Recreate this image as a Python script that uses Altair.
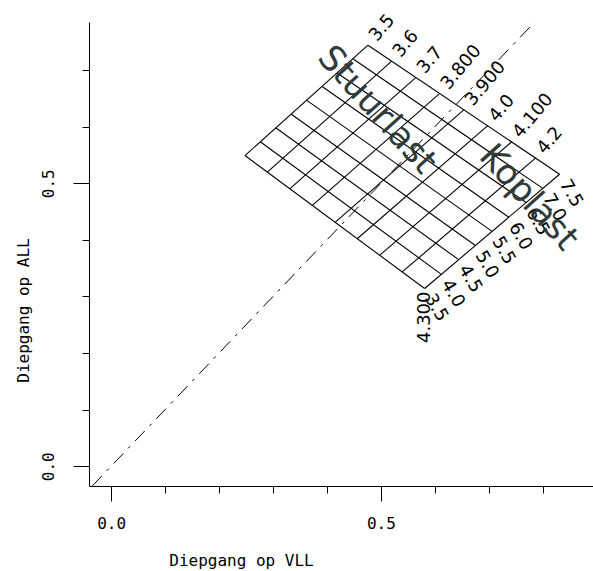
import altair as alt
import pandas as pd

# Axis extents (draft at forward / aft perpendicular)
x_domain = [-0.041, 0.893]
y_domain = [-0.035, 0.785]
x_ticks = [0.0, 0.1, 0.2, 0.3, 0.4, 0.5, 0.6, 0.7, 0.8]
y_ticks = [0.0, 0.1, 0.2, 0.3, 0.4, 0.5, 0.6, 0.7]

# Family A lines (stern-load values): upper and lower end points
a_labels = ["3.5", "3.6", "3.7", "3.800", "3.900", "4.0", "4.100", "4.2", "4.300"]
a_x_top = [0.476, 0.520, 0.565, 0.609, 0.654, 0.698, 0.742, 0.787, 0.831]
a_y_top = [0.744, 0.716, 0.687, 0.659, 0.630, 0.602, 0.573, 0.545, 0.516]
a_x_bot = [0.248, 0.290, 0.331, 0.373, 0.415, 0.456, 0.498, 0.539, 0.581]
a_y_bot = [0.549, 0.520, 0.490, 0.461, 0.431, 0.402, 0.373, 0.343, 0.314]

# Family B lines (bow-load values): left and right end points
b_labels = ["3.5", "4.0", "4.5", "5.0", "5.5", "6.0", "6.5", "7.0", "7.5"]
b_x_left = [0.248, 0.277, 0.305, 0.334, 0.362, 0.391, 0.419, 0.448, 0.476]
b_y_left = [0.549, 0.573, 0.598, 0.622, 0.647, 0.671, 0.695, 0.720, 0.744]
b_x_right = [0.581, 0.612, 0.644, 0.675, 0.706, 0.737, 0.769, 0.800, 0.831]
b_y_right = [0.314, 0.339, 0.365, 0.390, 0.415, 0.440, 0.466, 0.491, 0.516]

# Even-keel reference line (equal drafts)
even_keel = [-0.035, 0.80]

# Region names
region_names = ["Stuurlast", "Koplast"]
region_x = [0.493, 0.774]
region_y = [0.630, 0.475]

MONO = "DejaVu Sans Mono"
SANS = "DejaVu Sans"

xs = alt.Scale(domain=x_domain, nice=False, zero=False)
ys = alt.Scale(domain=y_domain, nice=False, zero=False)

major = "datum.value == 0 || datum.value == 0.5"
only_major = "datum.value == 0 || datum.value == 0.5 ? format(datum.value, '.1f') : ''"

x_axis = alt.Axis(
    values=x_ticks,
    labelExpr=only_major,
    tickSize={"condition": {"test": major, "value": 15}, "value": 7},
    labelPadding=14,
    labelFont=MONO,
    labelFontSize=16,
    labelColor="black",
    title="Diepgang op VLL",
    titleFont=MONO,
    titleFontSize=16,
    titleFontWeight="normal",
    titleColor="black",
    titleX=152,
    titleY=74,
    titleAlign="center",
    titleBaseline="middle",
    domainColor="black",
    tickColor="black",
    grid=False,
)

y_axis = alt.Axis(
    values=y_ticks,
    labelExpr=only_major,
    tickSize={"condition": {"test": major, "value": 16}, "value": 7},
    labelAngle=270,
    labelAlign="center",
    labelBaseline="bottom",
    labelPadding=17,
    labelFont=MONO,
    labelFontSize=16,
    labelColor="black",
    title="Diepgang op ALL",
    titleFont=MONO,
    titleFontSize=16,
    titleFontWeight="normal",
    titleColor="black",
    titleAngle=270,
    titleX=-66,
    titleY=288,
    titleAlign="center",
    titleBaseline="middle",
    domainColor="black",
    tickColor="black",
    grid=False,
)

fam_a = pd.DataFrame({"label": a_labels, "x": a_x_top, "y": a_y_top,
                      "x2": a_x_bot, "y2": a_y_bot})
fam_b = pd.DataFrame({"label": b_labels, "x": b_x_left, "y": b_y_left,
                      "x2": b_x_right, "y2": b_y_right})
diag = pd.DataFrame({"x": [even_keel[0]], "y": [even_keel[0]],
                     "x2": [even_keel[1]], "y2": [even_keel[1]]})
names = pd.DataFrame({"name": region_names, "x": region_x, "y": region_y})

# invisible base layer carrying the axes
axes = alt.Chart(diag).mark_point(opacity=0).encode(
    x=alt.X("x:Q", scale=xs, axis=x_axis),
    y=alt.Y("y:Q", scale=ys, axis=y_axis),
)

diag_line = alt.Chart(diag).mark_rule(
    color="black", strokeWidth=1, strokeDash=[14, 7, 3, 7], clip=True
).encode(x="x:Q", y="y:Q", x2="x2:Q", y2="y2:Q")

grid_a = alt.Chart(fam_a).mark_rule(color="black", strokeWidth=1.1).encode(
    x="x:Q", y="y:Q", x2="x2:Q", y2="y2:Q")
grid_b = alt.Chart(fam_b).mark_rule(color="black", strokeWidth=1.1).encode(
    x="x:Q", y="y:Q", x2="x2:Q", y2="y2:Q")

text_style = dict(font=SANS, fontSize=18, color="black")

# stern-load labels at the upper ends of the lines
lab_a = alt.Chart(fam_a.iloc[:-1]).mark_text(
    angle=310, align="left", baseline="middle", dx=8, **text_style
).encode(x="x:Q", y="y:Q", text="label:N")

# last stern-load label sits at the lower end of its line
lab_a_last = alt.Chart(fam_a.iloc[-1:]).mark_text(
    angle=270, align="right", baseline="middle", dx=-3, **text_style
).encode(x="x2:Q", y="y2:Q", text="label:N")

# bow-load labels at the right ends of the lines
lab_b = alt.Chart(fam_b).mark_text(
    angle=60, align="left", baseline="middle", dx=8, **text_style
).encode(x="x2:Q", y="y2:Q", text="label:N")

region_text = alt.Chart(names).mark_text(
    angle=48, align="center", baseline="middle", font=SANS, fontSize=35,
    color="#2f3b3b"
).encode(x="x:Q", y="y:Q", text="name:N")

chart = alt.layer(
    axes, grid_a, grid_b, diag_line, lab_a, lab_a_last, lab_b, region_text
).properties(
    width=504,
    height=464,
    autosize=alt.AutoSizeParams(type="none"),
    padding={"left": 89, "top": 22, "right": 0, "bottom": 85},
).configure(background="white").configure_view(stroke=None)

chart.save("out.html", embed_options={"renderer": "svg", "actions": False})
